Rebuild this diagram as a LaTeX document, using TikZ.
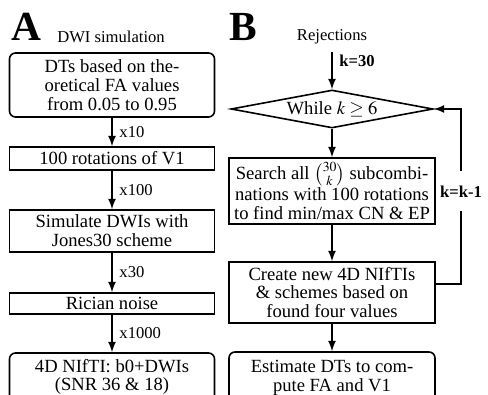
\documentclass[tikz,border=0pt]{standalone}
\usepackage{amsmath}
\usepackage{mathptmx}
\usepackage{fontspec}
\setmainfont{Liberation Serif}
\usetikzlibrary{shapes.geometric}

\begin{document}
\begin{tikzpicture}[auto, x=0.5pt, y=-0.5pt, line width=0.8pt, >=latex,
  box/.style={draw, align=center, minimum width=102.5pt, inner sep=1pt, font=\fontsize{9.3}{9.4}\selectfont},
  rbox/.style={box, rounded corners=3pt},
  lbl/.style={font=\fontsize{8.3}{10}\selectfont},
  klbl/.style={font=\fontsize{8.3}{10}\selectfont\bfseries},
  big/.style={font=\fontsize{20.7}{21}\selectfont\bfseries, inner sep=0pt, anchor=base}]

\useasboundingbox (0,0) rectangle (488,395);
\clip (0,0) rectangle (488,395);

\node[big] (lettA) at (26,41) {A};
\node[lbl, anchor=base] (dwisim) at (111,43) {DWI simulation};

\node[rbox, minimum height=32pt] (dts) at (112,85) {DTs based on the-\\oretical FA values\\from 0.05 to 0.95};
\node[box, minimum height=11.5pt] (rot) at (112,158.5) {100 rotations of V1};
\node[box, minimum height=21pt] (sim) at (112,231) {Simulate DWIs with\\Jones30 scheme};
\node[box, minimum height=10.5pt] (noise) at (112,303.5) {Rician noise};
\node[rbox, minimum height=24pt] (nifti) at (112,377) {4D NIfTI: b0+DWIs\\(SNR 36 \& 18)};

\path[->] (dts) edge node[lbl] {x10} (rot);
\path[->] (rot) edge node[lbl] {x100} (sim);
\path[->] (sim) edge node[lbl] {x30} (noise);
\path[->] (noise) edge node[lbl] {x1000} (nifti);

\node[big] (lettB) at (243,41) {B};
\node[lbl, anchor=base] (rej) at (332,41) {Rejections};

\node[draw, diamond, aspect=5.3, inner sep=0.5pt, minimum width=101pt, minimum height=19pt,
  font=\fontsize{9.3}{9.4}\selectfont] (test) at (332,109) {While $k \geq 6$};
\node[box, minimum width=103pt, minimum height=33pt] (search) at (332,191) {Search all $\binom{30}{k}$ subcombi-\\nations with 100 rotations\\to find min/max CN \& EP};
\node[box, minimum width=103pt, minimum height=30.5pt] (create) at (332,292.5) {Create new 4D NIfTIs\\\& schemes based on\\found four values};
\node[rbox, minimum width=103pt, minimum height=26pt] (est) at (332,378) {Estimate DTs to com-\\pute FA and V1};

\path[->] (rej) edge node[klbl, pos=0.25] {k=30} (test);
\path[->] (test) edge (search);
\path[->] (search) edge (create);
\path[->] (create) edge (est);

\coordinate (fb) at (461,284);
\draw[->] (create.east |- fb) -- (fb) -- node[klbl, pos=0.53, anchor=center, fill=white, inner xsep=1pt, inner ysep=7pt] {k=k-1} (fb |- test.east) -- (test.east);

\end{tikzpicture}
\end{document}
